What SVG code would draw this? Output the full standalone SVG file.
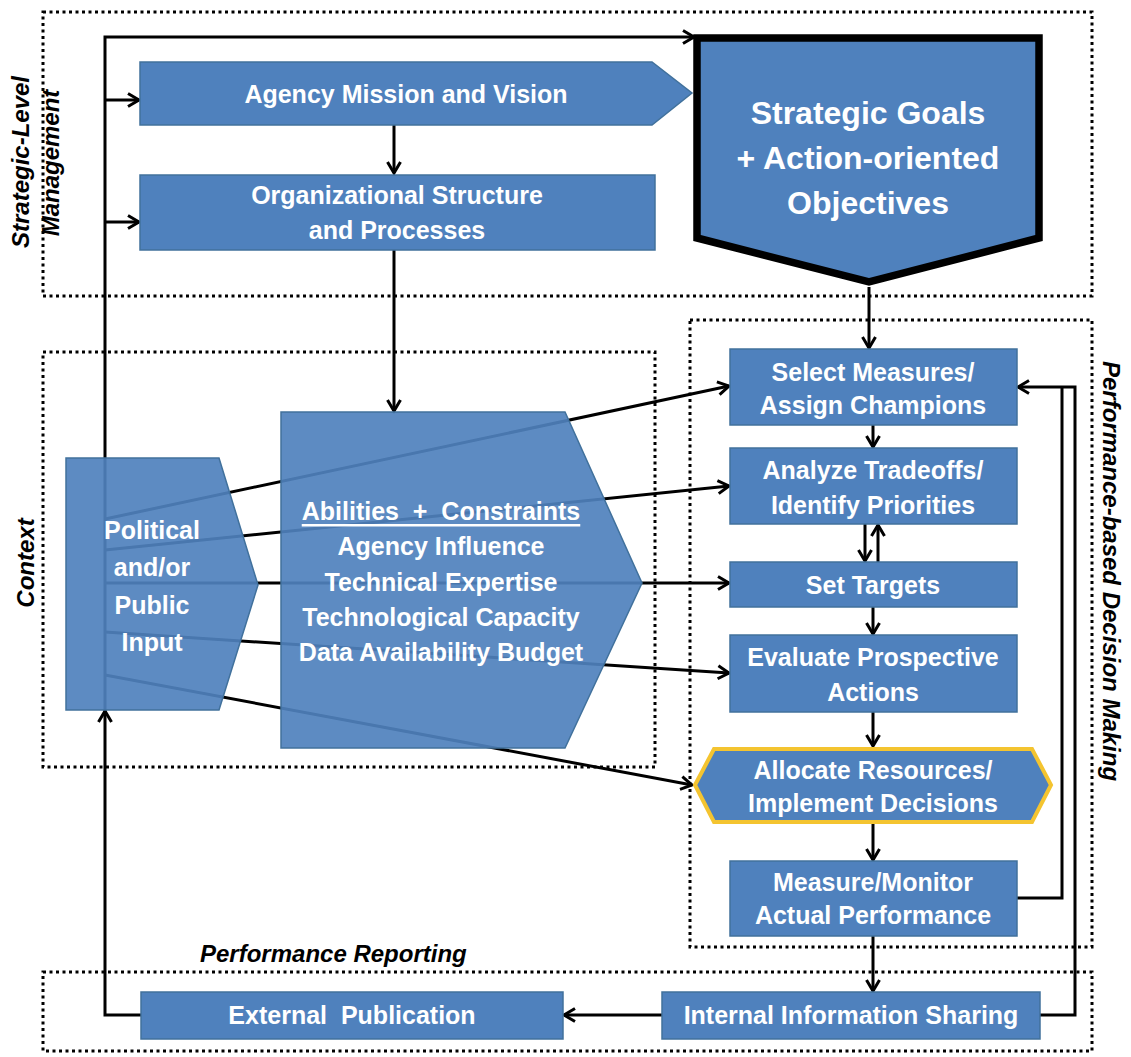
<svg xmlns="http://www.w3.org/2000/svg" width="1131" height="1057" viewBox="0 0 1131 1057">
<defs>
<style>
.zone{fill:none;stroke:#000;stroke-width:3;stroke-dasharray:3 3.5}
.lbl{font-family:"Liberation Sans",Arial,sans-serif;font-weight:bold;font-style:italic;font-size:24px;fill:#000}
.box{fill:#4F81BD;stroke:#41719C;stroke-width:1.5}
.see{fill-opacity:0.92}
.t{font-family:"Liberation Sans",Arial,sans-serif;font-weight:bold;font-size:25px;fill:#fff;text-anchor:middle;dominant-baseline:central;white-space:pre}
.big{font-size:32px}
.c{fill:none;stroke:#000;stroke-width:3}
</style>
<marker id="ah" markerUnits="userSpaceOnUse" markerWidth="16" markerHeight="16" refX="13" refY="8" orient="auto">
<path d="M2,1.5 L13,8 L2,14.5" fill="none" stroke="#000" stroke-width="3"/>
</marker>
</defs>
<rect width="1131" height="1057" fill="#fff"/>

<g id="zones">
<rect class="zone" x="43" y="12" width="1049" height="284"/>
<rect class="zone" x="43" y="352" width="612" height="415"/>
<rect class="zone" x="690" y="320" width="402" height="627"/>
<rect class="zone" x="43" y="972" width="1049" height="79"/>
<text class="lbl" transform="translate(29,162) rotate(-90)" text-anchor="middle">Strategic-Level</text>
<text class="lbl" transform="translate(59,163) rotate(-90)" text-anchor="middle">Management</text>
<text class="lbl" transform="translate(34,563) rotate(-90)" text-anchor="middle">Context</text>
<text class="lbl" transform="translate(1103,571) rotate(90)" text-anchor="middle">Performance-based Decision Making</text>
<text class="lbl" x="200" y="962">Performance Reporting</text>
</g>

<g id="connectors">
<path class="c" d="M141,1015 H105 V711" marker-end="url(#ah)"/>
<path class="c" d="M105,711 V37 H694" marker-end="url(#ah)"/>
<path class="c" d="M105,100 H139" marker-end="url(#ah)"/>
<path class="c" d="M105,222 H139" marker-end="url(#ah)"/>
<path class="c" d="M394,125 V173" marker-end="url(#ah)"/>
<path class="c" d="M394,250 V411" marker-end="url(#ah)"/>
<path class="c" d="M869,287 V348" marker-end="url(#ah)"/>
<path class="c" d="M105,519 L729,386" marker-end="url(#ah)"/>
<path class="c" d="M105,550 L729,486" marker-end="url(#ah)"/>
<path class="c" d="M105,583 L729,583" marker-end="url(#ah)"/>
<path class="c" d="M105,632 L729,673" marker-end="url(#ah)"/>
<path class="c" d="M105,675 L692,785" marker-end="url(#ah)"/>
<path class="c" d="M873,425 V447" marker-end="url(#ah)"/>
<path class="c" d="M865,524 V561" marker-end="url(#ah)"/>
<path class="c" d="M878,562 V525" marker-end="url(#ah)"/>
<path class="c" d="M873,607 V634" marker-end="url(#ah)"/>
<path class="c" d="M873,712 V746" marker-end="url(#ah)"/>
<path class="c" d="M873,823 V860" marker-end="url(#ah)"/>
<path class="c" d="M873,936 V991" marker-end="url(#ah)"/>
<path class="c" d="M1016,898 H1062 V387"/>
<path class="c" d="M1040,1015 H1075 V387 H1018" marker-end="url(#ah)"/>
<path class="c" d="M662,1015 H564" marker-end="url(#ah)"/>
</g>

<g id="agency-mission">
<polygon class="box" points="140,62 652,62 692,93 652,125 140,125"/>
<text class="t" x="406" y="94">Agency Mission and Vision</text>
</g>
<g id="org-structure">
<rect class="box" x="140" y="175" width="515" height="75"/>
<text class="t" x="397" y="195">Organizational Structure</text>
<text class="t" x="397" y="230">and Processes</text>
</g>
<g id="strategic-goals">
<polygon points="697,38 1039,38 1039,238 869,282 697,238" fill="#4F81BD" stroke="#000" stroke-width="7.5"/>
<text class="t big" x="868" y="113">Strategic Goals</text>
<text class="t big" x="868" y="158">+ Action-oriented</text>
<text class="t big" x="868" y="203">Objectives</text>
</g>
<g id="political-input">
<polygon class="box see" points="66,458 219,458 258,585 219,710 66,710"/>
<text class="t" x="152" y="530">Political</text>
<text class="t" x="152" y="567">and/or</text>
<text class="t" x="152" y="605">Public</text>
<text class="t" x="152" y="642">Input</text>
</g>
<g id="abilities-constraints">
<polygon class="box see" points="281,412 565,412 642,583 565,748 281,748"/>
<text class="t" x="441" y="511" text-decoration="underline">Abilities  +  Constraints</text>
<text class="t" x="441" y="546">Agency Influence</text>
<text class="t" x="441" y="582">Technical Expertise</text>
<text class="t" x="441" y="617">Technological Capacity</text>
<text class="t" x="441" y="652">Data Availability Budget</text>
</g>
<g id="select-measures">
<rect class="box" x="730" y="349" width="287" height="76"/>
<text class="t" x="873" y="372">Select Measures/</text>
<text class="t" x="873" y="405">Assign Champions</text>
</g>
<g id="analyze-tradeoffs">
<rect class="box" x="730" y="448" width="287" height="76"/>
<text class="t" x="873" y="470">Analyze Tradeoffs/</text>
<text class="t" x="873" y="505">Identify Priorities</text>
</g>
<g id="set-targets">
<rect class="box" x="730" y="562" width="287" height="45"/>
<text class="t" x="873" y="585">Set Targets</text>
</g>
<g id="evaluate-actions">
<rect class="box" x="730" y="635" width="287" height="77"/>
<text class="t" x="873" y="657">Evaluate Prospective</text>
<text class="t" x="873" y="692">Actions</text>
</g>
<g id="allocate-resources">
<polygon points="695,785 714,749 1032,749 1051,785 1032,822 714,822" fill="#4F81BD" stroke="#F4C430" stroke-width="4"/>
<text class="t" x="873" y="770">Allocate Resources/</text>
<text class="t" x="873" y="803">Implement Decisions</text>
</g>
<g id="measure-monitor">
<rect class="box" x="730" y="861" width="287" height="75"/>
<text class="t" x="873" y="882">Measure/Monitor</text>
<text class="t" x="873" y="915">Actual Performance</text>
</g>
<g id="external-publication">
<rect class="box" x="141" y="992" width="422" height="47"/>
<text class="t" x="352" y="1015">External  Publication</text>
</g>
<g id="internal-sharing">
<rect class="box" x="662" y="992" width="378" height="47"/>
<text class="t" x="851" y="1015">Internal Information Sharing</text>
</g>
</svg>
